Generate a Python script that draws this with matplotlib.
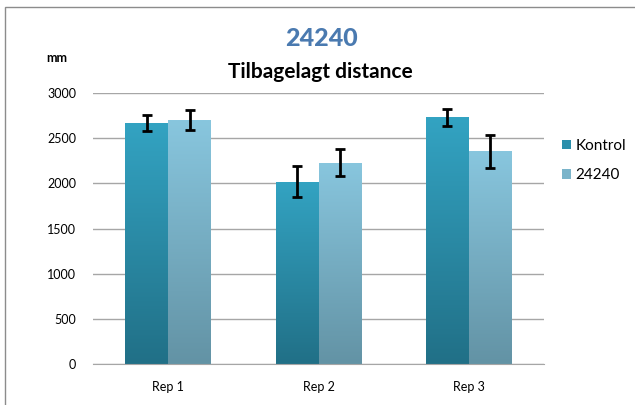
import numpy as np
import matplotlib
matplotlib.use('Agg')
from matplotlib import pyplot as plt
from matplotlib.colors import LinearSegmentedColormap
from matplotlib.patches import Rectangle

# data
categories = ['Rep 1', 'Rep 2', 'Rep 3']
kontrol = [2670, 2020, 2730]
kontrol_err = [90, 175, 95]
behandlet = [2700, 2230, 2355]
behandlet_err = [115, 150, 180]
series_names = ['Kontrol', '24240']

plt.rcParams['font.family'] = ['Lato', 'DejaVu Sans']

fig = plt.figure(figsize=(6.35, 4.05), dpi=100)
ax = fig.add_axes([93 / 635, 1 - 364 / 405, 451 / 635, 271 / 405])

# outer chart border
fig.patches.append(Rectangle((5 / 635, -0.01), 1.0, 1 - 7 / 405 + 0.01,
                             transform=fig.transFigure, fill=False,
                             edgecolor='#8c8c8c', linewidth=1.0))

x = np.arange(len(categories))
w = 1 / 3.5

grads = [('#33a3c2', '#217087'), ('#88c6de', '#6393a5')]
legend_cols = ['#2b8fab', '#7ab4ca']

for i, (vals, errs) in enumerate([(kontrol, kontrol_err), (behandlet, behandlet_err)]):
    bars = ax.bar(x + (i - 0.5) * w, vals, w, color=legend_cols[i], zorder=2,
                  label=series_names[i])
    cmap = LinearSegmentedColormap.from_list('g%d' % i, [grads[i][1], grads[i][0]])
    for b in bars:
        bx, by = b.get_x(), b.get_y()
        bw, bh = b.get_width(), b.get_height()
        im = ax.imshow(np.linspace(0, 1, 100).reshape(-1, 1), cmap=cmap,
                       extent=[bx, bx + bw, by, by + bh], origin='lower',
                       aspect='auto', zorder=2.5)
        im.set_clip_path(b)
    ax.errorbar(x + (i - 0.5) * w, vals, yerr=errs, fmt='none', ecolor='black',
                elinewidth=2, capsize=3.5, capthick=2, zorder=4)

ax.set_xlim(-0.5, 2.5)
ax.set_ylim(0, 3000)
ax.set_yticks(np.arange(0, 3001, 500))
ax.set_xticks(x)
ax.set_xticklabels(categories, fontsize=9)
ax.tick_params(axis='y', length=0, labelsize=9, pad=12)
ax.tick_params(axis='x', length=0, pad=12)
ax.yaxis.grid(True, color='#a6a6a6', linewidth=1, zorder=0)
ax.set_axisbelow(True)
for s in ['left', 'right', 'top']:
    ax.spines[s].set_visible(False)
ax.spines['bottom'].set_color('#a6a6a6')

fig.text(321 / 635, 1 - 39 / 405, '24240', ha='center', va='center',
         fontsize=18, fontweight='black', color='#4a7ab0')
fig.text(320 / 635, 1 - 72 / 405, 'Tilbagelagt distance', ha='center',
         va='center', fontsize=15, fontweight='bold', color='black')
fig.text(57 / 635, 1 - 58 / 405, 'mm', ha='center', va='center',
         fontsize=9, fontweight='bold')

ax.legend(loc='center left', bbox_to_anchor=(1.01, 0.75), frameon=False,
          fontsize=11, handlelength=0.55, handleheight=0.55, handletextpad=0.3,
          labelspacing=1.0)

fig.savefig('out.png', dpi=100)
